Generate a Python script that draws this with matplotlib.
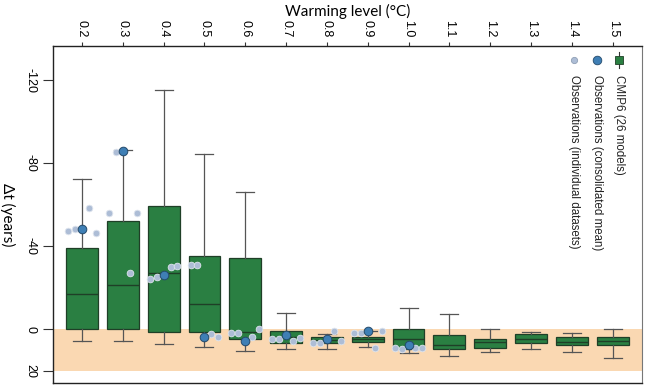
import numpy as np
import matplotlib
matplotlib.use("Agg")
import matplotlib.pyplot as plt

# warming levels (deg C) along the top axis
levels = ["0.2", "0.3", "0.4", "0.5", "0.6", "0.7", "0.8", "0.9",
          "1.0", "1.1", "1.2", "1.3", "1.4", "1.5"]

# CMIP6 box statistics for delta t (years)
whis_lo = [-72.1, -86.3, -115.2, -84.2, -66.2, -7.9, 2.5, 0.8, -10.1, -7.1, 0.2, 1.3, 1.8, 0.2]
box_q1 = [-39.2, -52.2, -59.1, -35.2, -34.2, 1.0, 3.7, 3.7, 0.2, 2.9, 5.0, 2.6, 4.0, 4.0]
box_med = [-16.7, -21.0, -27.1, -11.9, 1.5, 4.0, 5.3, 4.8, 5.0, 7.7, 6.4, 5.0, 6.1, 5.8]
box_q3 = [0.0, 0.0, 1.6, 1.6, 5.0, 6.6, 6.9, 6.1, 9.8, 9.8, 8.9, 6.9, 7.7, 7.7]
whis_hi = [5.9, 5.9, 7.1, 8.7, 10.6, 9.8, 9.8, 8.5, 11.7, 13.2, 10.9, 9.8, 10.9, 13.8]

# observations, available for 0.2 .. 1.0
obs_mean = [-48.0, -85.9, -26.2, 3.7, 5.9, 2.9, 5.0, 0.8, 7.7]
obs_ds1 = [-47.4, -56.0, -24.1, -30.8, 2.1, 5.0, 6.6, 2.1, 9.0]
obs_ds2 = [-48.0, -85.2, -25.2, -30.8, 2.1, 5.0, 6.6, 1.8, 9.8]
obs_ds3 = [-58.2, -26.8, -29.7, 2.4, 3.7, 5.9, 0.8, 8.9, 8.9]
obs_ds4 = [-46.1, -56.0, -30.4, 3.7, 0.0, 4.3, 5.9, 0.8, 9.0]

band = (0, 20)

GREEN = "#2a7f42"
DARK = "#1f3f27"
MEAN_C = "#3f7fb5"
IND_C = "#adbdd6"
BAND_C = "#fad8b2"
NARROW = ["Liberation Sans Narrow", "Liberation Sans", "DejaVu Sans"]

fig = plt.figure(figsize=(6.5, 3.9), dpi=100)
ax = fig.add_axes([53 / 650, 1 - 383 / 390, 589 / 650, 337 / 390])

pos = np.arange(len(levels))
ax.axhspan(band[0], band[1], color=BAND_C, zorder=0, lw=0)

stats = [dict(whislo=a, q1=b, med=c, q3=d, whishi=e, fliers=[])
         for a, b, c, d, e in zip(whis_lo, box_q1, box_med, box_q3, whis_hi)]
ax.bxp(stats, positions=pos, widths=0.78, patch_artist=True, showfliers=False,
       boxprops=dict(facecolor=GREEN, edgecolor=DARK, lw=0.9),
       medianprops=dict(color=DARK, lw=1.0),
       whiskerprops=dict(color="#555555", lw=0.9),
       capprops=dict(color="#555555", lw=0.9), capwidths=0.44,
       manage_ticks=False, zorder=2)

# individual datasets, spread around each level
offsets = [-0.34, -0.17, 0.17, 0.34]
xo = pos[:len(obs_mean)]
for off, ds in zip(offsets, [obs_ds1, obs_ds2, obs_ds3, obs_ds4]):
    ax.plot(xo + off, ds, "o", ms=4.8, mfc=IND_C, mec="#dfe5ee", mew=0.6,
            ls="none", zorder=3)
ax.plot(xo, obs_mean, "o", ms=6.2, mfc=MEAN_C, mec="#244a6b", mew=0.7,
        ls="none", zorder=4)

ax.set_xlim(-0.71, 13.72)
ax.set_ylim(26, -136.4)

ax.xaxis.tick_top()
ax.xaxis.set_label_position("top")
ax.set_xticks(pos)
ax.set_xticklabels(levels, rotation=-90, family=NARROW, fontsize=9)
ax.set_yticks([-120, -80, -40, 0, 20])
ax.set_yticklabels(["-120", "-80", "-40", "0", "20"], rotation=-90,
                   family=NARROW, fontsize=9, va="center")
ax.tick_params(axis="x", length=3, width=0.8, pad=3, color="#333333")
ax.tick_params(axis="y", length=7, width=0.8, pad=5, color="#333333")
ax.set_xlabel("Warming level (°C)", family="Lato", fontsize=11, labelpad=3)
ax.set_ylabel("Δt (years)", family="Lato", fontsize=11, rotation=-90,
              labelpad=12, va="center")
for s in ["left", "top", "bottom"]:
    ax.spines[s].set_color("#222222")
    ax.spines[s].set_linewidth(1.0)
ax.spines["right"].set_color("#777777")

# legend, rotated with the rest of the chart
tr = ax.transAxes
ax.plot([0.961, 0.961], [0.935, 0.982], color="#333333", lw=0.8, transform=tr,
        clip_on=False, zorder=5)
ax.plot(0.961, 0.958, "s", ms=5.5, mfc=GREEN, mec=DARK, mew=0.6, transform=tr,
        zorder=6)
ax.plot(0.924, 0.958, "o", ms=6.2, mfc=MEAN_C, mec="#244a6b", mew=0.6,
        transform=tr, zorder=6)
ax.plot(0.885, 0.958, "o", ms=4.5, mfc=IND_C, mec="#8f9fb5", mew=0.6,
        transform=tr, zorder=6)
leg_txt = ["CMIP6 (26 models)", "Observations (consolidated mean)",
           "Observations (individual datasets)"]
for x, t in zip([0.961, 0.924, 0.885], leg_txt):
    ax.text(x, 0.915, t, rotation=-90, transform=tr, ha="center", va="top",
            family=NARROW, fontsize=8.3, color="#222222", zorder=6)

fig.savefig("out.png", dpi=100)
